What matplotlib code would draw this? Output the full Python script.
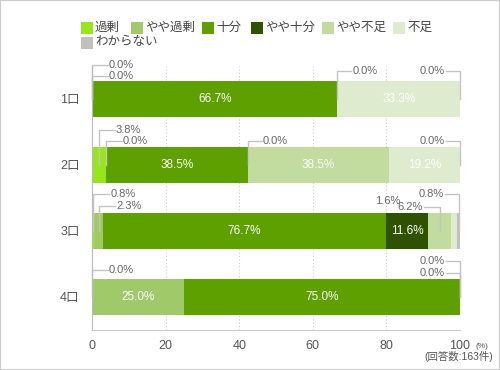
import matplotlib
matplotlib.use('Agg')
import numpy as np
import matplotlib.pyplot as plt
from matplotlib.patches import Rectangle

plt.rcParams['font.family'] = ['Liberation Sans', 'Noto Sans CJK JP', 'DejaVu Sans']

# data
rows = ['1口', '2口', '3口', '4口']
categories = ['過剰', 'やや過剰', '十分', 'やや十分', 'やや不足', '不足', 'わからない']
kajo = [0.0, 3.8, 0.8, 0.0]
yaya_kajo = [0.0, 0.0, 2.3, 25.0]
juubun = [66.7, 38.5, 76.7, 75.0]
yaya_juubun = [0.0, 0.0, 11.6, 0.0]
yaya_fusoku = [0.0, 38.5, 6.2, 0.0]
fusoku = [33.3, 19.2, 1.6, 0.0]
wakaranai = [0.0, 0.0, 0.8, 0.0]
x_ticks = [0, 20, 40, 60, 80, 100]
n_answers = 163

series = [kajo, yaya_kajo, juubun, yaya_juubun, yaya_fusoku, fusoku, wakaranai]
colors = ['#97e61c', '#a0c96a', '#5da000', '#2f5200', '#c1dc9e', '#deebcf', '#c0c0c0']

# outside labels: (row, category, side, level above bar in px, leader length in px)
outside = [
    (0, 0, 'L', 16, 16), (0, 1, 'L', 5, 16), (0, 3, 'L', 10, 14), (0, 6, 'R', 10, 14),
    (1, 0, 'L', 17, 16), (1, 1, 'L', 6, 16), (1, 3, 'L', 6, 14), (1, 6, 'R', 6, 14),
    (2, 0, 'L', 19, 16), (2, 1, 'L', 7, 16), (2, 5, 'N', 12, 54), (2, 4, 'R', 6, 16),
    (2, 6, 'R', 19, 14),
    (3, 0, 'L', 9, 16), (3, 3, 'R', 18, 14), (3, 6, 'R', 6, 14),
]

W, H = 500, 370
fig = plt.figure(figsize=(W / 100, H / 100), dpi=100)
ax = fig.add_axes([92 / W, 40 / H, 368 / W, 264 / H])

bar_h = 0.545
px_x = 100 / 368
px_y = 1 / 66

data = np.array(series)
cum = np.cumsum(data, axis=0) - data
y = np.arange(len(rows))

for i, cat in enumerate(categories):
    ax.barh(y, data[i], left=cum[i], height=bar_h, color=colors[i], linewidth=0, zorder=2)
    for r in range(len(rows)):
        v = data[i][r]
        if v >= 10:
            ax.text(cum[i][r] + v / 2, r, f'{v:.1f}%', ha='center', va='center',
                    color='white', fontsize=8.5, zorder=4)

lc = '#c4c4c4'
for r, i, side, lev, hl in outside:
    xm = cum[i][r] + data[i][r] / 2
    ytop = r - bar_h / 2 - lev * px_y
    label = f'{data[i][r]:.1f}%'
    if side == 'L':
        ax.plot([xm, xm, xm + hl * px_x], [r, ytop, ytop], color=lc, lw=1, zorder=3,
                clip_on=False, solid_joinstyle='miter')
        ax.text(xm + (hl + 1) * px_x, ytop, label, ha='left', va='center',
                color='#666666', fontsize=8)
    elif side == 'R':
        ax.plot([xm, xm, xm - hl * px_x], [r, ytop, ytop], color=lc, lw=1, zorder=3,
                clip_on=False, solid_joinstyle='miter')
        ax.text(xm - (hl + 1) * px_x, ytop, label, ha='right', va='center',
                color='#666666', fontsize=8)
    else:
        ax.text(xm - hl * px_x, ytop, label, ha='right', va='center',
                color='#666666', fontsize=8)

ax.set_xlim(0, 100)
ax.set_ylim(len(rows) - 0.5, -0.5)
ax.set_yticks(y)
ax.set_yticklabels(rows, fontsize=9, color='#555555')
ax.set_xticks(x_ticks)
ax.set_xticklabels([str(t) for t in x_ticks], fontsize=9, color='#555555')
ax.tick_params(length=0, pad=7)
ax.tick_params(axis='y', pad=9)
for t in x_ticks[1:]:
    ax.axvline(t, color='#cccccc', lw=0.8, ls=(0, (1, 2)), zorder=1)
for s in ['top', 'right']:
    ax.spines[s].set_visible(False)
ax.spines['left'].set_color('#bbbbbb')
ax.spines['bottom'].set_color('#cccccc')
ax.spines['left'].set_zorder(5)

fig.text(475 / W, 1 - 346 / H, '(%)', fontsize=6, color='#555555', va='center', ha='left')
fig.text(493 / W, 1 - 356 / H, f'(回答数:{n_answers}件)', fontsize=7.5, color='#555555',
         va='center', ha='right')

# legend
leg_x = [81, 131, 202, 251, 322, 393, 81]
leg_y = [27.5, 27.5, 27.5, 27.5, 27.5, 27.5, 42.5]
for cat, c, lx, ly in zip(categories, colors, leg_x, leg_y):
    fig.patches.append(Rectangle((lx / W, 1 - (ly + 6) / H), 12 / W, 12 / H,
                                 transform=fig.transFigure, color=c, lw=0))
    fig.text((lx + 14) / W, 1 - ly / H, cat, fontsize=9, color='#444444',
             va='center', ha='left')

fig.patches.append(Rectangle((0, 0), 1, 1, transform=fig.transFigure, fill=False,
                             edgecolor='#cccccc', lw=1.5))

fig.savefig('out.png', dpi=100)
